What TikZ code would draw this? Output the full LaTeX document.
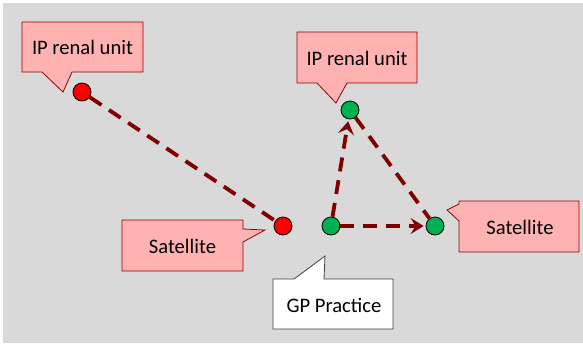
\documentclass[tikz,border=0pt]{standalone}
\usepackage{fontspec}
\setmainfont{Carlito}
\usetikzlibrary{arrows.meta}
\definecolor{linkred}{RGB}{128,0,0}
\definecolor{bubblepink}{RGB}{255,178,178}
\definecolor{bubbleedge}{RGB}{150,0,0}
\definecolor{panelgrey}{RGB}{217,217,217}
\definecolor{sitegreen}{RGB}{0,176,80}
\begin{document}
\begin{tikzpicture}[x=1pt,y=-1pt,
    site/.style={circle,draw=black,line width=0.8pt,minimum size=18pt,inner sep=0pt},
    bubble/.style={fill=bubblepink,draw=bubbleedge,line width=0.8pt},
    gpbubble/.style={fill=white,draw=black!75,line width=0.8pt},
    tag/.style={font=\fontsize{20.6}{24}\selectfont,inner sep=0pt},
    link/.style={draw=linkred,line width=3.8pt,dash pattern=on 14pt off 9pt},
    linkarrow/.style={link,-{Stealth[length=13pt,width=16pt,inset=5pt]},shorten >=2pt}]
  \useasboundingbox (0,0) rectangle (583,343);
  \fill[panelgrey] (3,3) rectangle (583,343);
  \draw[bubble] (22,22) -- (143,22) -- (143,72) -- (72,72) -- (63,92) -- (42,72) -- (22,72) -- cycle;
  \draw[bubble] (297,32) -- (417,32) -- (417,83) -- (347,83) -- (336,103) -- (317,83) -- (297,83) -- cycle;
  \draw[bubble] (122,220) -- (243,220) -- (243,229) -- (265,230) -- (243,242) -- (243,271) -- (122,271) -- cycle;
  \draw[gpbubble] (273,279) -- (294,279) -- (325,256) -- (324,279) -- (393,279) -- (393,329) -- (273,329) -- cycle;
  \draw[bubble] (459,201) -- (579,201) -- (579,252) -- (459,252) -- (459,221) -- (447,210) -- (459,204) -- cycle;
  \node[tag] (ipa) at (82.5,47) {IP renal unit};
  \node[tag] (ipb) at (357,58) {IP renal unit};
  \node[tag] (sata) at (182.5,246) {Satellite};
  \node[tag] (gp) at (334,305) {GP Practice};
  \node[tag] (satb) at (520,227) {Satellite};
  \node[site,fill=red] (ra) at (82,92) {};
  \node[site,fill=red] (rb) at (283,226) {};
  \node[site,fill=sitegreen] (gg) at (331,226) {};
  \node[site,fill=sitegreen] (gt) at (350,110) {};
  \node[site,fill=sitegreen] (gr) at (435,226) {};
  \begin{scope}
    \draw[link] (ra) -- (rb);
    \draw[link] (gt) -- (gr);
    \draw[linkarrow] (gg) -- (gt);
    \draw[linkarrow] (gg) -- (gr);
  \end{scope}
\end{tikzpicture}
\end{document}
